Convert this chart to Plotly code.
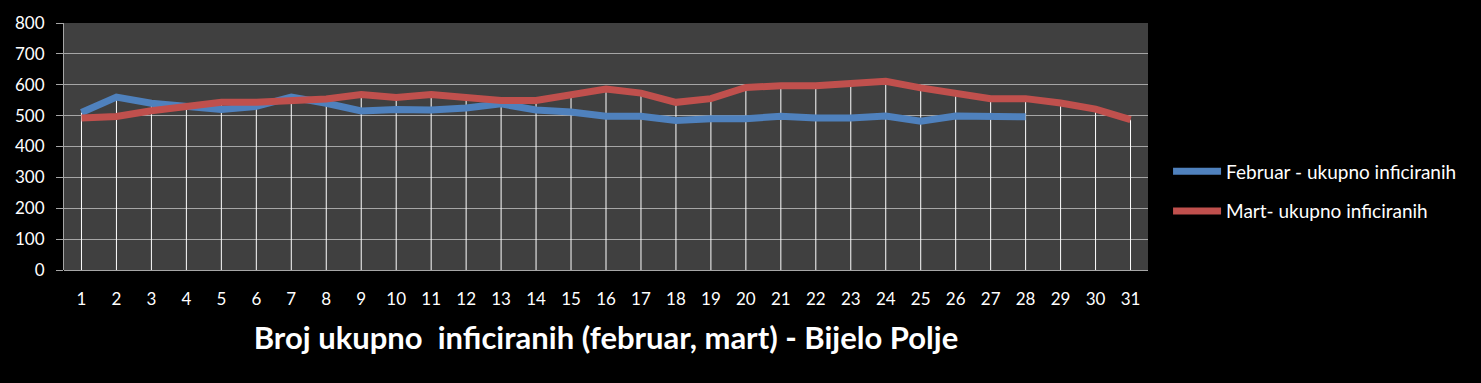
import plotly.graph_objects as go

days = list(range(1, 32))
day_labels = [str(d) for d in days]
februar = [510, 560, 540, 530, 520, 530, 560, 540, 515, 520, 518, 525, 538, 518, 512,
           498, 498, 484, 490, 490, 498, 492, 492, 499, 482, 499, 499, 496]
mart = [492, 497, 516, 532, 543, 543, 550, 554, 568, 559, 568, 560, 549, 549, 568,
        586, 573, 543, 555, 591, 597, 597, 604, 611, 590, 573, 555, 555, 541, 521, 487]

name_feb = "Februar - ukupno inficiranih"
name_mar = "Mart- ukupno inficiranih"
title_text = "Broj ukupno  inficiranih (februar, mart) - Bijelo Polje"

FONT = "Lato"

# drop lines (from the highest point at each category down to the axis)
dx, dy = [], []
for i, d in enumerate(days):
    vals = [mart[i]] + ([februar[i]] if i < len(februar) else [])
    dx += [d, d, None]
    dy += [0, max(vals), None]

fig = go.Figure()
fig.add_trace(go.Scatter(x=dx, y=dy, mode="lines", line=dict(color="white", width=1),
                         showlegend=False, hoverinfo="skip"))
fig.add_trace(go.Scatter(x=days[:len(februar)], y=februar, mode="lines", name=name_feb,
                         legendgroup="a", line=dict(color="#4F81BD", width=7)))
fig.add_trace(go.Scatter(x=days, y=mart, mode="lines", name=name_mar,
                         legendgroup="b", line=dict(color="#C0504D", width=7)))

fig.update_layout(
    width=1481, height=383,
    margin=dict(l=64, r=333, t=23, b=113),
    paper_bgcolor="black", plot_bgcolor="#404040",
    font=dict(family=FONT, color="white", size=17),
    legend=dict(x=1.0185, y=0.318, xanchor="left", yanchor="middle",
                font=dict(size=19, color="white"), bgcolor="rgba(0,0,0,0)",
                tracegroupgap=12, traceorder="grouped", itemwidth=48),
    xaxis=dict(range=[0.5, 31.5], tickmode="array", tickvals=days, ticktext=day_labels,
               showgrid=False, zeroline=False, showline=False, ticks="",
               ticklabelstandoff=17,
               tickfont=dict(size=17, color="white"),
               title=dict(text="<b>" + title_text + "</b>", font=dict(size=31, color="white"),
                          standoff=19)),
    yaxis=dict(range=[0, 800], dtick=100, showgrid=True, gridcolor="#a6a6a6", gridwidth=1,
               zeroline=True, zerolinecolor="#a6a6a6", zerolinewidth=1,
               showline=True, linecolor="#a6a6a6", linewidth=1,
               ticks="outside", ticklen=7, tickcolor="#a6a6a6", ticklabelstandoff=8,
               tickfont=dict(size=17, color="white")),
)

fig.write_html("out.html")
